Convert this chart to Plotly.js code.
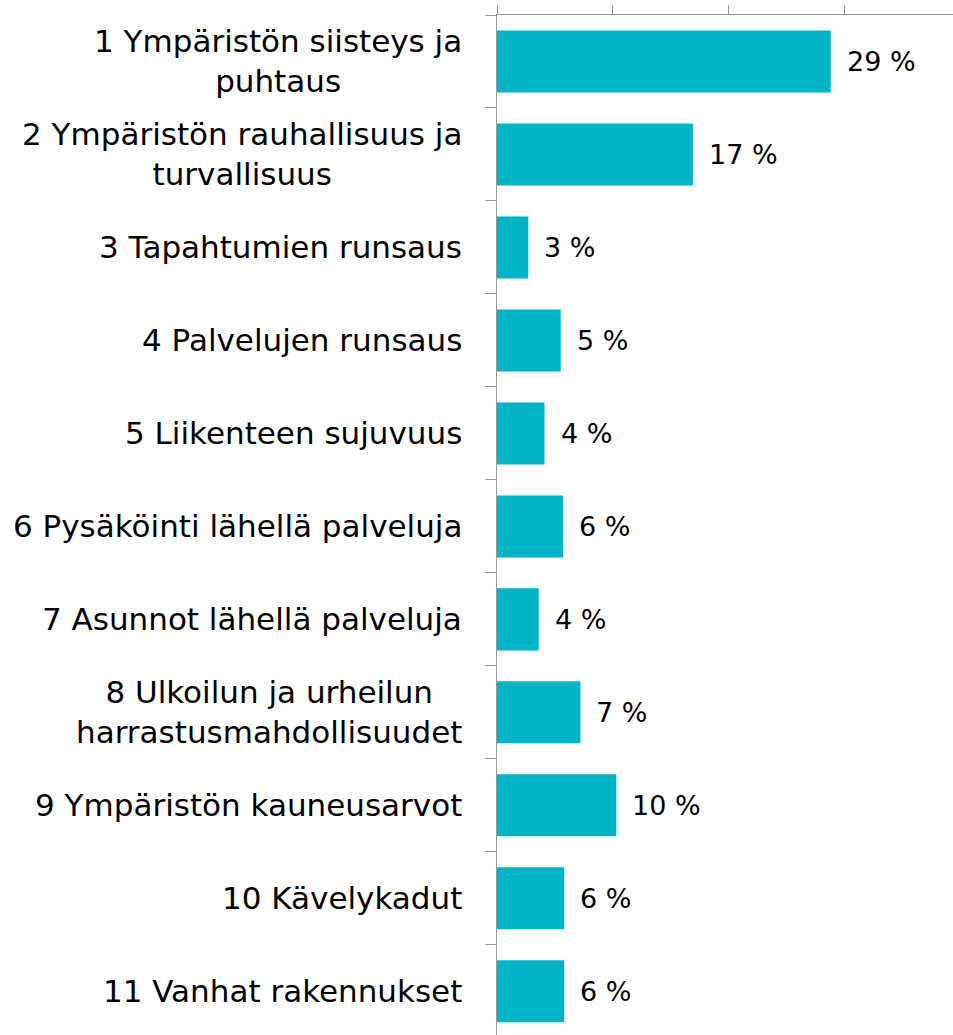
<!DOCTYPE html>
<html>
<head>
<meta charset="utf-8">
<script src="https://cdn.plot.ly/plotly-3.0.1.min.js"></script>
<style>html,body{margin:0;padding:0;background:#fff;}#chart{width:953px;height:1035px;}</style>
</head>
<body>
<div id="chart"></div>
<script>
const categories = [
  "1 Ympäristön siisteys ja<br>puhtaus",
  "2 Ympäristön rauhallisuus ja<br>turvallisuus",
  "3 Tapahtumien runsaus",
  "4 Palvelujen runsaus",
  "5 Liikenteen sujuvuus",
  "6 Pysäköinti lähellä palveluja",
  "7 Asunnot lähellä palveluja",
  "8 Ulkoilun ja urheilun<br>harrastusmahdollisuudet",
  "9 Ympäristön kauneusarvot",
  "10 Kävelykadut",
  "11 Vanhat rakennukset"
];
const values = [0.288, 0.169, 0.027, 0.055, 0.041, 0.057, 0.036, 0.072, 0.103, 0.058, 0.058];
const valueLabels = ["29 %", "17 %", "3 %", "5 %", "4 %", "6 %", "4 %", "7 %", "10 %", "6 %", "6 %"];
const xTicks = [0, 0.1, 0.2, 0.3];

const FONT = "DejaVu Sans";
const ids = categories.map((c, i) => i);

const annotations = [];
categories.forEach((c, i) => {
  annotations.push({
    xref: "paper", yref: "y", x: 0, y: i, xanchor: "right", yanchor: "middle",
    xshift: -33, text: c, align: "center", showarrow: false,
    font: {family: FONT, size: 31, color: "#000"}
  });
  annotations.push({
    xref: "x", yref: "y", x: values[i], y: i, xanchor: "left", yanchor: "middle",
    xshift: 14, text: valueLabels[i], showarrow: false,
    font: {family: FONT, size: 27, color: "#000"}
  });
});

const trace = {
  type: "bar", orientation: "h", x: values, y: ids,
  marker: {color: "#00B4C5"}, hoverinfo: "none"
};

const layout = {
  width: 953, height: 1035,
  margin: {l: 497, r: 0, t: 15, b: 0, pad: 0},
  paper_bgcolor: "#fff", plot_bgcolor: "#fff",
  bargap: 0.333,
  showlegend: false,
  xaxis: {
    side: "top", range: [0, 0.3935], tickvals: xTicks, showticklabels: false,
    ticks: "outside", ticklen: 9, tickcolor: "#999", tickwidth: 1,
    showline: true, linecolor: "#999", linewidth: 1, showgrid: false, zeroline: false
  },
  yaxis: {
    range: [10.47, -0.5], tickvals: [-0.5,0.5,1.5,2.5,3.5,4.5,5.5,6.5,7.5,8.5,9.5,10.5], showticklabels: false,
    ticks: "outside", ticklen: 11, tickcolor: "#999", tickwidth: 1,
    showline: true, linecolor: "#999", linewidth: 1, showgrid: false, zeroline: false
  },
  annotations: annotations
};

Plotly.newPlot("chart", [trace], layout, {staticPlot: true, displayModeBar: false});
</script>
</body>
</html>
